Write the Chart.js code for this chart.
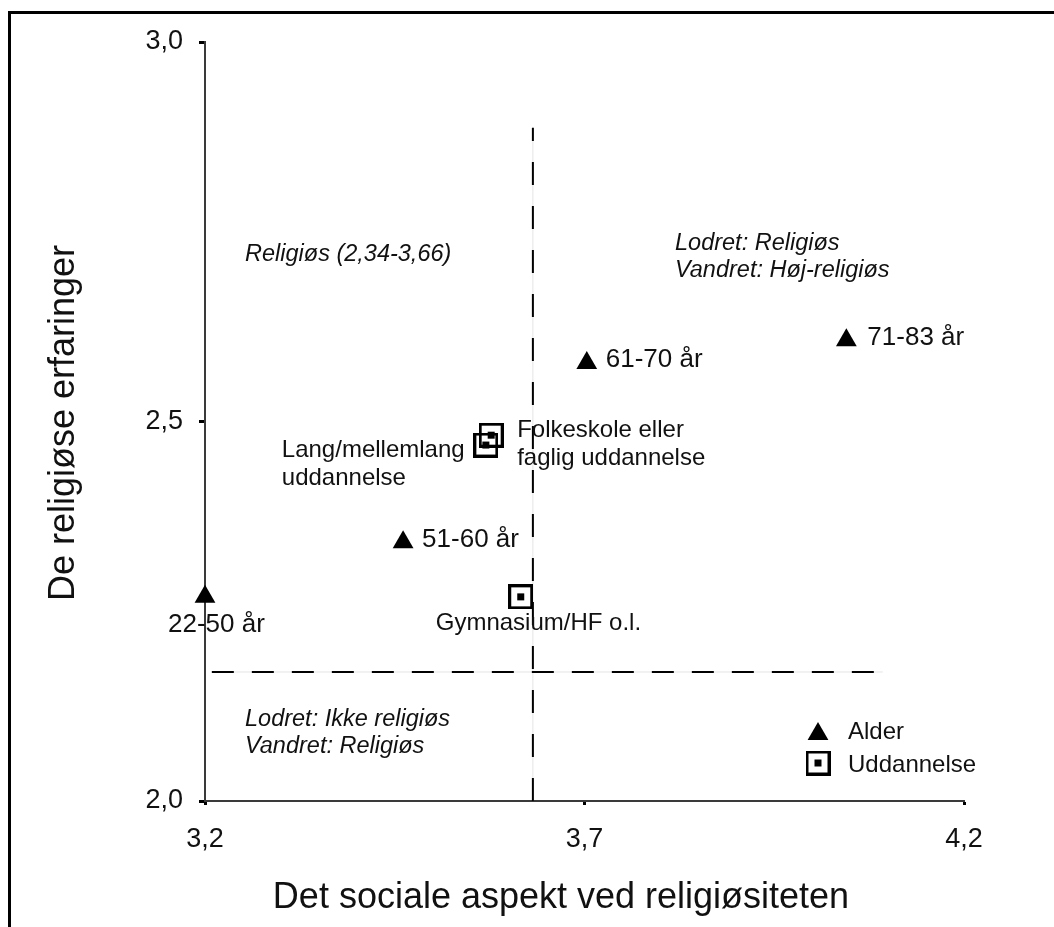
<!DOCTYPE html>
<html>
<head>
<meta charset="utf-8">
<title>Religiøse erfaringer og det sociale aspekt</title>
<script src="https://cdn.jsdelivr.net/npm/chart.js@4.4.0/dist/chart.umd.min.js"></script>
<style>
  html, body { margin: 0; padding: 0; background: #fff; }
  #wrap { position: relative; width: 1054px; height: 927px; overflow: hidden; }
  #frame { position: absolute; left: 8px; top: 11px; width: 1100px; height: 1000px;
           border-left: 3px solid #000; border-top: 3px solid #000; }
  #chart { position: absolute; left: 0; top: 0; }
</style>
</head>
<body>
<div id="wrap">
  <div id="frame"></div>
  <canvas id="chart" width="1054" height="927"></canvas>
</div>
<script>
// DATA
const ageLabels = ["22-50 år", "51-60 år", "61-70 år", "71-83 år"];
const ageSocial = [3.200, 3.461, 3.703, 4.045];
const ageExperience = [2.269, 2.341, 2.577, 2.607];

const eduLabels = [["Lang/mellemlang", "uddannelse"], ["Folkeskole eller", "faglig uddannelse"], ["Gymnasium/HF o.l."]];
const eduSocial = [3.570, 3.577, 3.616];
const eduExperience = [2.469, 2.482, 2.269];

const xTicks = [3.2, 3.7, 4.2];
const yTicks = [2.0, 2.5, 3.0];

// quadrant cut lines
const cutSocial = 3.632;
const cutExperience = 2.170;
const vLineExperience = [2.0, 2.887];
const hLineSocial = [3.209, 4.093];

const seriesNames = ["Alder", "Uddannelse"];

// label placement (pixels, relative to the marker)
const ageLabelOffsets = [[-37, 28], [19, -2], [19, -3], [21, -2]];
const eduLabelOffsets = [[-204, 5], [26, -5], [-85, 27]];

const FONT = '"Liberation Sans", Arial, sans-serif';

function squareMarker() {
    const c = document.createElement('canvas');
    c.width = 25; c.height = 25;
    const g = c.getContext('2d');
    g.strokeStyle = '#000';
    g.lineWidth = 3;
    g.strokeRect(1.5, 1.5, 22, 22);
    g.fillStyle = '#000';
    g.fillRect(9, 9, 7, 7);
    return c;
}
const squareImg = squareMarker();

const fmt = v => Number(v).toFixed(1).replace('.', ',');

const annotate = {
    id: 'annotate',
    afterDatasetsDraw(chart) {
        const { ctx, scales: { x, y } } = chart;
        ctx.save();
        ctx.fillStyle = '#111';
        ctx.textBaseline = 'middle';
        ctx.textAlign = 'left';

        // age group labels
        ctx.font = '26px ' + FONT;
        ageLabels.forEach((t, i) => {
            const [dx, dy] = ageLabelOffsets[i];
            ctx.fillText(t, x.getPixelForValue(ageSocial[i]) + dx, y.getPixelForValue(ageExperience[i]) + dy);
        });

        // education labels
        ctx.font = '24px ' + FONT;
        eduLabels.forEach((lines, i) => {
            const [dx, dy] = eduLabelOffsets[i];
            const px = x.getPixelForValue(eduSocial[i]) + dx;
            const py = y.getPixelForValue(eduExperience[i]) + dy;
            lines.forEach((t, j) => ctx.fillText(t, px, py + j * 28));
        });

        // quadrant notes
        ctx.font = 'italic 23.5px ' + FONT;
        ctx.fillText("Religiøs (2,34-3,66)", 245, 254);
        ctx.fillText("Lodret: Religiøs", 675, 243);
        ctx.fillText("Vandret: Høj-religiøs", 675, 270);
        ctx.fillText("Lodret: Ikke religiøs", 245, 719);
        ctx.fillText("Vandret: Religiøs", 245, 746);

        // legend
        ctx.beginPath();
        const r = 12, lx = 818, ly = 734;
        ctx.moveTo(lx, ly - r);
        ctx.lineTo(lx + Math.sin(Math.PI * 2 / 3) * r, ly + r / 2);
        ctx.lineTo(lx - Math.sin(Math.PI * 2 / 3) * r, ly + r / 2);
        ctx.closePath();
        ctx.fillStyle = '#000';
        ctx.fill();
        ctx.drawImage(squareImg, 818 - 12.5, 763 - 12.5);
        ctx.fillStyle = '#111';
        ctx.font = '24px ' + FONT;
        ctx.fillText(seriesNames[0], 848, 732);
        ctx.fillText(seriesNames[1], 848, 765);

        // axis titles
        ctx.font = '36px ' + FONT;
        ctx.textBaseline = 'alphabetic';
        ctx.textAlign = 'center';
        ctx.fillText("Det sociale aspekt ved religiøsiteten", 561, 908);
        ctx.translate(74, 423);
        ctx.rotate(-Math.PI / 2);
        ctx.fillText("De religiøse erfaringer", 0, 0);
        ctx.restore();
    }
};

new Chart(document.getElementById('chart').getContext('2d'), {
    type: 'scatter',
    data: {
        datasets: [
            {
                label: seriesNames[0],
                data: ageSocial.map((v, i) => ({ x: v, y: ageExperience[i] })),
                pointStyle: 'triangle',
                pointRadius: 12,
                backgroundColor: '#000',
                borderWidth: 0,
                clip: false
            },
            {
                label: seriesNames[1],
                data: eduSocial.map((v, i) => ({ x: v, y: eduExperience[i] })),
                pointStyle: squareImg,
                pointRadius: 12,
                clip: false
            },
            {
                type: 'line',
                data: vLineExperience.map(v => ({ x: cutSocial, y: v })),
                borderColor: '#000',
                borderWidth: 2,
                borderDash: [23, 21],
                pointRadius: 0,
                fill: false
            },
            {
                type: 'line',
                data: hLineSocial.map(v => ({ x: v, y: cutExperience })),
                borderColor: '#000',
                borderWidth: 2,
                borderDash: [22, 18],
                pointRadius: 0,
                fill: false
            },
            {
                type: 'line',
                data: vLineExperience.map(v => ({ x: cutSocial, y: v })),
                borderColor: '#e4e4e4',
                borderWidth: 1,
                pointRadius: 0,
                fill: false
            },
            {
                type: 'line',
                data: hLineSocial.map(v => ({ x: v, y: cutExperience })),
                borderColor: '#e4e4e4',
                borderWidth: 1,
                pointRadius: 0,
                fill: false
            }
        ]
    },
    options: {
        responsive: false,
        animation: false,
        events: [],
        devicePixelRatio: 1,
        layout: { padding: { top: 42, right: 90, left: 0, bottom: 0 } },
        plugins: {
            legend: { display: false },
            tooltip: { enabled: false }
        },
        scales: {
            x: {
                type: 'linear',
                min: 3.2,
                max: 4.2,
                afterBuildTicks: s => { s.ticks = xTicks.map(v => ({ value: v })); },
                afterFit: s => { s.height = 126; },
                border: { display: true, color: '#3a3a3a', width: 2 },
                grid: { drawOnChartArea: false, drawTicks: true, tickLength: 4, tickWidth: 3, tickColor: '#000' },
                ticks: { callback: fmt, color: '#111', padding: 18, maxRotation: 0, font: { family: FONT, size: 27 } }
            },
            y: {
                type: 'linear',
                min: 2.0,
                max: 3.0,
                afterBuildTicks: s => { s.ticks = yTicks.map(v => ({ value: v })); },
                afterFit: s => { s.width = 205; },
                border: { display: true, color: '#3a3a3a', width: 2 },
                grid: { drawOnChartArea: false, drawTicks: true, tickLength: 6, tickWidth: 3, tickColor: '#000' },
                ticks: { callback: fmt, color: '#111', padding: 16, font: { family: FONT, size: 27 } }
            }
        }
    },
    plugins: [annotate]
});
</script>
</body>
</html>
